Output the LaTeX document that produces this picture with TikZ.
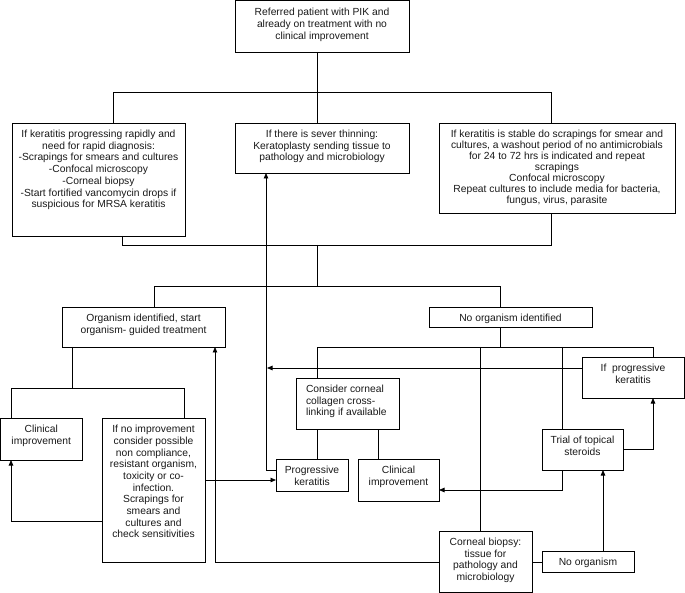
\documentclass[tikz,border=0pt]{standalone}
\usepackage{fontspec}
\setmainfont{Liberation Sans}
\usetikzlibrary{arrows.meta}
\tikzset{
  boxst/.style={draw=black, line width=0.8pt, inner sep=0pt, outer sep=0pt,
    font=\fontsize{10.3}{11.5}\selectfont, text=black!90},
  conn/.style={draw=black, line width=0.8pt},
  arr/.style={conn, -{Triangle[length=5.5pt,width=4.5pt]}}
}
% #1 alignment, #2 name, #3 x1, #4 y1, #5 x2, #6 y2, #7 text
\newcommand\flowbox[7][\centering]{%
  \node[boxst, anchor=north west] (#2) at (#3,#4)
   {\parbox[c][\dimexpr#6pt-#4pt\relax][t]{\dimexpr#5pt-#3pt\relax}{#1\vspace*{6.6pt}\rule{0pt}{8pt}#7}};}
\begin{document}
\begin{tikzpicture}[x=1pt,y=-1pt]
\useasboundingbox (0,0) rectangle (685,593);

\flowbox[\centering\fontsize{10.3}{12}\selectfont]{top}{235}{0.5}{409}{52}{Referred patient with PIK and\\already on treatment with no\\clinical improvement}
\flowbox[\centering\fontsize{10.3}{11.7}\selectfont]{L1}{12}{123}{185}{236}{If keratitis progressing rapidly and\\need for rapid diagnosis:\\-Scrapings for smears and cultures\\-Confocal microscopy\\-Corneal biopsy\\-Start fortified vancomycin drops if\\suspicious for MRSA keratitis}
\flowbox{M1}{235}{123}{409}{173}{If there is sever thinning:\\Keratoplasty sending tissue to\\pathology and microbiology}
\flowbox[\centering\fontsize{10.3}{11}\selectfont]{R1}{439}{123}{675}{213}{If keratitis is stable do scrapings for smear and\\cultures, a washout period of no antimicrobials\\for 24 to 72 hrs is indicated and repeat\\scrapings\\Confocal microscopy\\Repeat cultures to include media for bacteria,\\fungus, virus, parasite}
\flowbox{Org}{62}{307}{225}{347}{Organism identified, start\\organism- guided treatment}
\flowbox{NoId}{429}{307}{592}{327}{No organism identified}
\flowbox{ClinL}{0.5}{418}{82}{460}{Clinical\\improvement}
\flowbox[\centering\fontsize{10.3}{11.7}\selectfont]{NoImp}{102}{418}{205}{562}{If no improvement\\consider possible\\non compliance,\\resistant organism,\\toxicity or co-\\infection.\\Scrapings for\\smears and\\cultures and\\check sensitivities}
\flowbox[\raggedright\leftskip=10pt\relax]{Cons}{296}{378}{399}{429}{Consider corneal\\collagen cross-\\linking if available}
\flowbox{IfP}{582}{357}{684}{398}{If~~progressive\\keratitis}
\flowbox{Prog}{276}{459}{348}{491}{Progressive\\keratitis}
\flowbox{ClinM}{358}{459}{439}{501}{Clinical\\improvement}
\flowbox{Trial}{542}{429}{623}{470}{Trial of topical\\steroids}
\flowbox{Bio}{439}{531}{532}{592}{Corneal biopsy:\\tissue for\\pathology and\\microbiology}
\flowbox{NoO}{542}{551}{634}{572}{No organism}

% junction coordinates
\coordinate (j1) at (317,92);
\coordinate (ja) at (113,92);
\coordinate (jb) at (551,92);
\coordinate (jc) at (122,245);
\coordinate (jd) at (551,245);
\coordinate (je) at (317,245);
\coordinate (jf) at (317,286);
\coordinate (jg) at (154,286);
\coordinate (jh) at (500,286);
\coordinate (jk) at (500,347);
\coordinate (ji) at (317,347);
\coordinate (jj) at (653,347);
\coordinate (jl) at (480,347);
\coordinate (jm) at (562,347);
\coordinate (jn) at (267,368);
\coordinate (jo) at (266,470);
\coordinate (jp) at (72,388);
\coordinate (jq) at (11,388);
\coordinate (jr) at (184,388);
\coordinate (js) at (11,521);
\coordinate (jt) at (205,480);
\coordinate (jv) at (378,430);
\coordinate (jw) at (562,490);
\coordinate (jx) at (653,449);
\coordinate (jy) at (537,562);
\coordinate (jz) at (603,560);
\coordinate (ka) at (215,562);

% connectors
\draw[conn] (top.south -| j1) -- (M1.north -| j1);
\draw[conn] (L1.north -| ja) -- (ja) -- (jb) -- (R1.north -| jb);
\draw[conn] (L1.south -| jc) -- (jc) -- (jd) -- (R1.south -| jd);
\draw[conn] (je) -- (jf);
\draw[conn] (Org.north -| jg) -- (jg) -- (jh) -- (NoId.north -| jh);
\draw[conn] (NoId.south -| jk) -- (jk);
\draw[conn] (Cons.north -| ji) -- (ji) -- (jj) -- (IfP.north -| jj);
\draw[conn] (jl) -- (Bio.north -| jl);
\draw[conn] (jm) -- (Trial.north -| jm);
\draw[arr] (IfP.west |- jn) -- (jn);
\draw[arr] (Prog.west |- jo) -- (jo) -- (M1.south -| jo);
\draw[conn] (Org.south -| jp) -- (jp);
\draw[conn] (ClinL.north -| jq) -- (jq) -- (jr) -- (NoImp.north -| jr);
\draw[arr] (NoImp.west |- js) -- (js) -- (ClinL.south -| js);
\draw[arr] (NoImp.east |- jt) -- (Prog.west |- jt);
\draw[conn] (Cons.south -| ji) -- (Prog.north -| ji);
\draw[conn] (Cons.south -| jv) -- (ClinM.north -| jv);
\draw[arr] (Trial.south -| jw) -- (jw) -- (ClinM.east |- jw);
\draw[arr] (Trial.east |- jx) -- (jx) -- (IfP.south -| jx);
\draw[conn] (Bio.east |- jy) -- (NoO.west |- jy);
\draw[arr] (NoO.north -| jz) -- (Trial.south -| jz);
\draw[arr] (Bio.west |- ka) -- (ka) -- (Org.south -| ka);
\end{tikzpicture}
\end{document}
